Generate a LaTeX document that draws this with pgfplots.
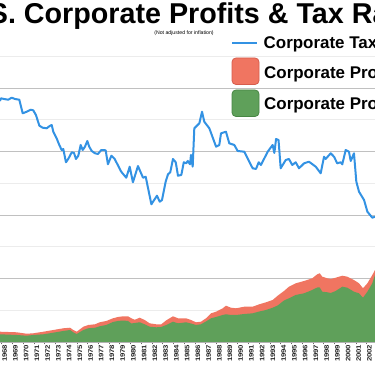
\documentclass[border=0pt]{standalone}
\usepackage{graphicx}
\usepackage{pgfplots}
\pgfplotsset{compat=1.18}
\usepackage{fontspec}
\setmainfont{Liberation Sans}
\definecolor{taxblue}{RGB}{51,146,227}
\definecolor{profred}{RGB}{240,117,97}
\definecolor{profgreen}{RGB}{95,160,90}
\definecolor{redborder}{RGB}{214,92,76}
\definecolor{greenborder}{RGB}{72,134,68}
\definecolor{majgrid}{RGB}{192,192,192}
\definecolor{mingrid}{RGB}{236,236,236}
\begin{document}
\begin{tikzpicture}
\path[use as bounding box] (0,0) rectangle (375bp,366bp);
\clip (0,0) rectangle (375bp,366bp);
\begin{axis}[
  at={(0bp,24bp)}, anchor=south west,
  scale only axis, width=375bp, height=285.714bp,
  xmin=1967.842, xmax=2002.790, ymin=0, ymax=900,
  axis x line*=bottom, axis y line*=left,
  y axis line style={draw=none},
  x axis line style={draw=gray!60, line width=0.6bp},
  ytick={0,200,...,800}, minor ytick={100,300,...,900},
  yticklabels={}, ytick style={draw=none}, minor y tick style={draw=none},
  ymajorgrids, yminorgrids,
  major y grid style={draw=majgrid, line width=0.9bp},
  minor y grid style={draw=mingrid, line width=0.9bp},
  xtick={1968,...,2003}, minor x tick num=3,
  tick align=outside, major tick length=2.5bp, minor tick length=2.5bp,
  xtick style={draw=gray!80!black, line width=0.5bp},
  minor x tick style={draw=gray!80!black, line width=0.5bp},
  /pgf/number format/assume math mode=true,
  xticklabel={\scalebox{1.2}[1]{\pgfmathprintnumber[1000 sep={}]{\tick}}},
  xticklabel style={rotate=90, anchor=east, inner sep=0pt, yshift=-3bp,
    font=\bfseries\fontsize{6.5}{7}\selectfont, text=black!85},
  clip=true,
]
% Corporate profits before tax (red)
\addplot[fill=profred, draw=none] coordinates {
(1967.84,32.4) (1969.39,30.6) (1970.33,26.1) (1970.94,27.4) (1971.88,32.4)
(1972.81,37.8) (1973.74,43.2) (1974.37,45.0) (1974.67,37.8) (1974.99,32.4)
(1975.61,48.2) (1976.07,53.6) (1976.70,55.8) (1977.14,62.1) (1977.75,66.2)
(1978.37,74.7) (1978.84,78.8) (1979.31,81.0) (1979.77,81.0) (1980.08,74.7)
(1980.40,70.2) (1980.87,76.5) (1981.32,69.3) (1981.79,58.9) (1982.40,55.8)
(1982.87,55.8) (1983.34,68.4) (1983.96,81.0) (1984.43,74.7) (1984.90,74.7)
(1985.18,74.7) (1985.64,69.3) (1986.11,62.1) (1986.57,63.9) (1987.04,74.7)
(1987.51,90.4) (1987.98,95.4) (1988.60,106.2) (1988.90,114.3) (1989.37,108.0)
(1989.84,106.2) (1990.61,111.2) (1991.39,111.2) (1992.01,118.8) (1992.63,125.1)
(1993.25,132.3) (1993.72,145.8) (1994.31,160.7) (1994.77,174.2) (1995.40,184.9)
(1996.18,192.2) (1996.94,200.7) (1997.41,213.3) (1997.64,216.4) (1997.88,205.7)
(1998.35,200.7) (1998.66,198.5) (1999.13,202.5) (1999.74,208.8) (2000.21,205.7)
(2000.83,195.3) (2001.30,184.9) (2001.67,169.2) (2002.08,184.9) (2002.54,211.1)
(2002.79,226.8)
} \closedcycle;
% Corporate profits after tax (green)
\addplot[fill=profgreen, draw=none] coordinates {
(1967.84,24.3) (1969.39,22.1) (1970.33,19.8) (1970.94,22.1) (1971.88,24.3)
(1972.81,29.3) (1973.74,34.7) (1974.37,37.8) (1974.67,30.6) (1974.99,25.2)
(1975.61,37.8) (1976.07,43.2) (1976.70,45.0) (1977.14,49.5) (1977.75,53.6)
(1978.37,63.0) (1978.84,66.2) (1979.31,67.7) (1979.77,66.2) (1980.08,58.3)
(1980.40,59.9) (1980.87,62.1) (1981.32,55.8) (1981.79,48.2) (1982.40,46.3)
(1982.87,47.3) (1983.34,53.6) (1983.96,63.9) (1984.43,58.9) (1984.90,60.8)
(1985.18,62.1) (1985.64,58.3) (1986.11,53.6) (1986.57,55.8) (1987.04,64.6)
(1987.51,74.7) (1987.98,78.8) (1988.60,85.1) (1988.90,87.3) (1989.37,85.1)
(1989.84,85.1) (1990.61,88.2) (1991.39,90.4) (1992.01,96.1) (1992.63,100.8)
(1993.25,108.0) (1993.72,115.0) (1994.31,130.7) (1994.77,137.7) (1995.40,148.1)
(1996.18,153.4) (1996.94,163.8) (1997.41,171.7) (1997.64,171.7) (1997.88,158.4)
(1998.35,156.6) (1998.66,154.4) (1999.13,160.7) (1999.74,174.2) (2000.21,171.0)
(2000.83,158.4) (2001.30,153.4) (2001.67,139.5) (2002.08,158.4) (2002.54,184.9)
(2002.79,211.1)
} \closedcycle;
% Corporate tax rate (blue)
\addplot[draw=taxblue, line width=2bp, line join=round, mark=none] coordinates {
(1967.84,759.2) (1967.93,767.7) (1968.21,765.5) (1968.61,763.2) (1968.93,769.5)
(1969.24,765.5) (1969.64,763.2) (1969.96,720.4) (1970.33,725.4) (1970.70,731.7)
(1970.94,729.9) (1971.19,715.1) (1971.51,681.3) (1971.82,675.0) (1972.20,673.2)
(1972.43,679.5) (1972.66,683.6) (1972.81,662.4) (1973.12,641.7) (1973.37,620.6)
(1973.59,604.8) (1973.74,608.0) (1973.99,566.1) (1974.20,576.5) (1974.53,597.6)
(1974.74,595.4) (1974.92,576.5) (1975.14,586.8) (1975.36,620.6) (1975.55,604.8)
(1975.76,615.2) (1975.98,633.2) (1976.16,615.2) (1976.39,601.7) (1976.70,594.4)
(1976.97,592.2) (1977.28,604.8) (1977.69,603.9) (1977.90,559.8) (1978.22,586.8)
(1978.53,576.5) (1979.14,536.4) (1979.61,517.5) (1979.93,552.2) (1980.23,503.1)
(1980.70,554.4) (1981.17,517.5) (1981.42,520.7) (1981.95,433.8) (1982.47,460.8)
(1982.73,441.9) (1982.94,447.3) (1983.28,504.9) (1983.50,528.3) (1983.71,534.6)
(1983.96,576.5) (1984.22,566.1) (1984.43,523.8) (1984.74,526.1) (1984.97,566.1)
(1985.20,562.9) (1985.34,570.2) (1985.55,559.8) (1985.64,589.1) (1985.80,552.2)
(1985.95,673.2) (1986.42,688.9) (1986.67,725.4) (1986.88,693.9) (1987.35,673.2)
(1987.98,615.2) (1988.28,620.6) (1988.44,657.4) (1988.90,662.4) (1989.21,625.9)
(1989.68,620.6) (1989.99,601.7) (1990.61,599.4) (1991.07,567.9) (1991.39,547.2)
(1991.70,545.0) (1991.95,566.1) (1992.16,557.6) (1992.79,599.4) (1993.25,620.6)
(1993.41,595.4) (1993.57,639.5) (1993.80,636.3) (1994.00,547.2) (1994.47,573.3)
(1994.77,576.5) (1995.08,557.6) (1995.40,566.1) (1995.71,547.2) (1996.18,562.9)
(1996.64,567.9) (1997.27,552.2) (1997.73,531.4) (1998.04,583.7) (1998.19,576.5)
(1998.66,594.4) (1998.97,583.7) (1999.27,562.9) (1999.59,566.1) (1999.74,559.8)
(2000.06,604.8) (2000.36,599.4) (2000.53,570.2) (2000.83,594.4) (2001.05,504.9)
(2001.30,473.4) (2001.77,447.3) (2002.08,410.4) (2002.54,391.5) (2002.79,394.7)
};
\end{axis}
% title and subtitle
\node[anchor=base west, inner sep=0pt, font=\bfseries\fontsize{28.8}{30}\selectfont] at (-40bp,342bp) {U.S. Corporate Profits \& Tax Rate};
\node[anchor=base, inner sep=0pt, font=\fontsize{5.2}{6}\selectfont] at (184bp,331.5bp) {(Not adjusted for inflation)};
% legend
\draw[taxblue, line width=2.5bp] (232bp,323bp) -- (257bp,323bp);
\node[anchor=base west, inner sep=0pt, font=\bfseries\fontsize{17}{18}\selectfont] at (263.5bp,317.5bp) {Corporate Tax Rate};
\draw[fill=profred, draw=redborder, line width=0.8bp, rounded corners=4bp] (232bp,281.5bp) rectangle (259bp,308bp);
\node[anchor=base west, inner sep=0pt, font=\bfseries\fontsize{17}{18}\selectfont] at (264bp,287bp) {Corporate Profits Before Tax};
\draw[fill=profgreen, draw=greenborder, line width=0.8bp, rounded corners=4bp] (232bp,249.5bp) rectangle (259bp,276bp);
\node[anchor=base west, inner sep=0pt, font=\bfseries\fontsize{17}{18}\selectfont] at (264bp,256bp) {Corporate Profits After Tax};
\end{tikzpicture}
\end{document}
